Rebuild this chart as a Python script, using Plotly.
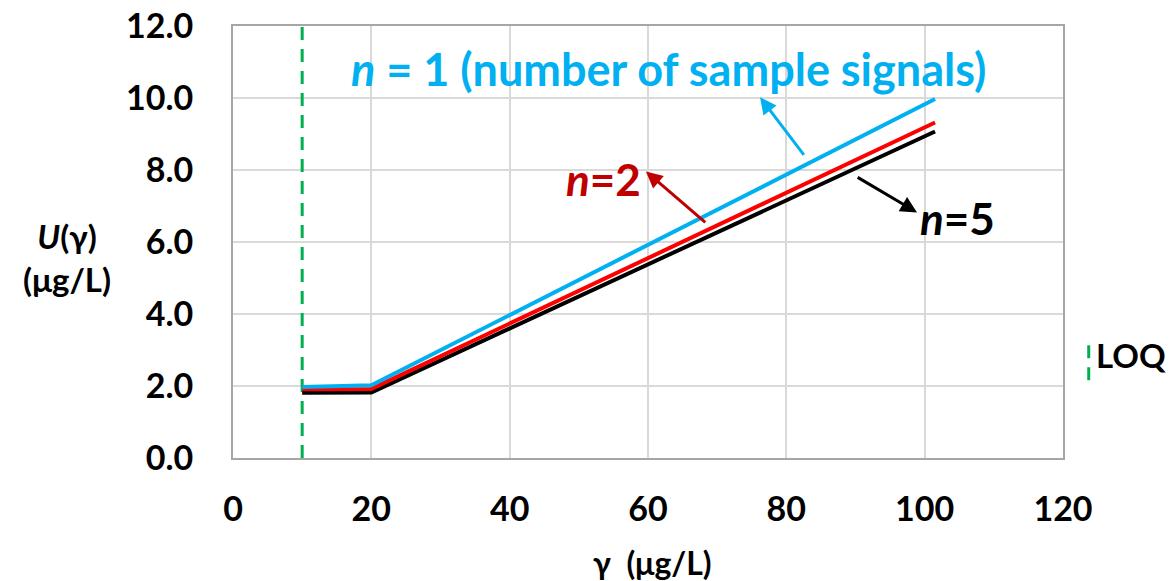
import plotly.graph_objects as go

# ---- data ----
gamma = [10, 20, 101.5]
u_n1 = [1.97, 2.02, 9.97]
u_n2 = [1.91, 1.92, 9.32]
u_n5 = [1.81, 1.82, 9.07]
loq_x = 10
x_ticks = [0, 20, 40, 60, 80, 100, 120]
y_ticks = [0, 2, 4, 6, 8, 10, 12]

BLUE = "#00b0f0"
RED = "#ff0000"
DARKRED = "#c00000"
BLACK = "#000000"
GREEN = "#00b050"
FONT = "Lato"

fig = go.Figure()
fig.add_trace(go.Scatter(x=[loq_x, loq_x], y=[y_ticks[0], y_ticks[-1]], mode="lines",
                         line=dict(color=GREEN, width=3, dash="13px,9px"), showlegend=False))
fig.add_trace(go.Scatter(x=gamma, y=u_n5, mode="lines", line=dict(color=BLACK, width=4), showlegend=False))
fig.add_trace(go.Scatter(x=gamma, y=u_n2, mode="lines", line=dict(color=RED, width=4), showlegend=False))
fig.add_trace(go.Scatter(x=gamma, y=u_n1, mode="lines", line=dict(color=BLUE, width=4), showlegend=False))

axis_common = dict(showline=True, linecolor="#a6a6a6", linewidth=2, mirror=True,
                   showgrid=True, gridcolor="#d9d9d9", gridwidth=1.5, zeroline=False,
                   ticks="", automargin=False, ticklabeloverflow="allow",
                   tickfont=dict(family=FONT, size=34, color="black", weight="bold"))

fig.update_xaxes(range=[0, 120], tickvals=x_ticks, ticktext=[str(v) for v in x_ticks],
                 ticklabelstandoff=20, **axis_common)
fig.update_yaxes(range=[0, 12], tickvals=y_ticks, ticktext=[f"{v:.1f}" for v in y_ticks],
                 ticklabelstandoff=31, **axis_common)

ann_font = dict(family=FONT, size=45, weight="bold")
small = dict(xanchor="center", yanchor="middle", showarrow=False)
annotations = [
    dict(x=63.0, y=10.8, xref="x", yref="y", text="<i>n</i> = 1 (number of sample signals)",
         font=dict(color=BLUE, **ann_font), **small),
    dict(x=53.6, y=7.74, xref="x", yref="y", text="<i>n</i>=2",
         font=dict(color=DARKRED, family=FONT, size=44, weight="bold"), **small),
    dict(x=104.8, y=6.68, xref="x", yref="y", text="<i>n</i>=5",
         font=dict(color=BLACK, family=FONT, size=44, weight="bold"), **small),
    # arrows
    dict(x=76.2, y=10.02, ax=82.7, ay=8.38, xref="x", yref="y", axref="x", ayref="y",
         text="", showarrow=True, arrowhead=2, arrowsize=1.1, arrowwidth=3, arrowcolor=BLUE),
    dict(x=59.7, y=7.96, ax=68.5, ay=6.51, xref="x", yref="y", axref="x", ayref="y",
         text="", showarrow=True, arrowhead=2, arrowsize=1.1, arrowwidth=3, arrowcolor=DARKRED),
    dict(x=98.9, y=6.82, ax=90.1, ay=7.82, xref="x", yref="y", axref="x", ayref="y",
         text="", showarrow=True, arrowhead=2, arrowsize=1.1, arrowwidth=3, arrowcolor=BLACK),
    # axis titles
    dict(x=-0.2, y=0.463, xref="paper", yref="paper", text="<i>U</i>(γ)<br>(μg/L)",
         align="center", font=dict(family=FONT, size=33, color="black", weight="bold"), **small),
    dict(x=0.505, y=-0.243, xref="paper", yref="paper", text="γ  (μg/L)",
         font=dict(family=FONT, size=32, color="black", weight="bold"), **small),
    # LOQ legend
    dict(x=1.082, y=0.238, xref="paper", yref="paper", text="LOQ",
         font=dict(family=FONT, size=33, color="black", weight="bold"), **small),
]
fig.update_layout(annotations=annotations)
fig.add_shape(type="line", xref="paper", yref="paper", x0=1.031, x1=1.031, y0=0.18, y1=0.28,
              line=dict(color=GREEN, width=3, dash="13px,9px"))

# plot area at x 233-1063, y 26-458 (page body margin removed below)
fig.update_layout(width=1173, height=581, margin=dict(l=233, r=110, t=26, b=123),
                  plot_bgcolor="white", paper_bgcolor="white")

fig.write_html("out.html", config={"displayModeBar": False},
               post_script="document.body.style.margin='0';")
